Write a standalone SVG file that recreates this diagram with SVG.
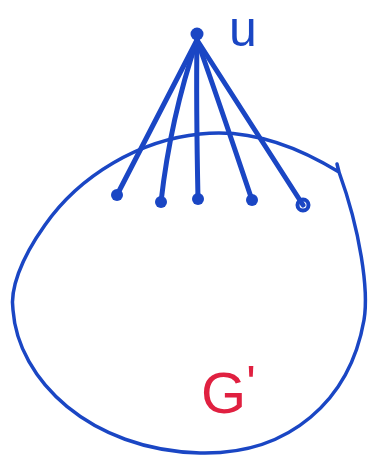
<svg xmlns="http://www.w3.org/2000/svg" width="371" height="461" viewBox="0 0 371 461">
<style>
.edge{stroke:#1a46c4;stroke-width:5;stroke-linecap:round;fill:none}
.vtx{fill:#1a46c4}
.outline{stroke:#1a46c4;stroke-width:3.5;fill:none;stroke-linecap:round;stroke-linejoin:round}
.lbl{font-family:"Liberation Sans",Arial,sans-serif}
</style>
<rect width="371" height="461" fill="#ffffff"/>
<g id="graph-Gprime">
<path class="outline" d="M337,164 L339,172 C300,148 250,128 200,134 C140,140 80,175 45,225 C20,260 10,290 13,310 C18,380 90,450 200,453 C290,455 350,400 364,320 C369,290 360,230 339,172"/>
<text class="lbl" x="201" y="413" font-size="58" fill="#e02040">G<tspan dy="-12" font-size="50">'</tspan></text>
</g>
<g id="connectors">
<path class="edge" d="M197,40 L117,195"/>
<path class="edge" d="M197,40 C180,90 168,140 161,202"/>
<path class="edge" d="M197,40 C196,100 197,150 198,199"/>
<path class="edge" d="M197,40 C215,90 235,150 252,200"/>
<path class="edge" d="M197,40 L303,205"/>
</g>
<g id="node-u">
<circle class="vtx" cx="197" cy="34" r="6.5"/>
<text class="lbl" x="229" y="46" font-size="50" fill="#1a46c4">u</text>
</g>
<g id="node-v1"><circle class="vtx" cx="117" cy="195" r="6"/></g>
<g id="node-v2"><circle class="vtx" cx="161" cy="202" r="6"/></g>
<g id="node-v3"><circle class="vtx" cx="198" cy="199" r="6"/></g>
<g id="node-v4"><circle class="vtx" cx="252" cy="200" r="6"/></g>
<g id="node-v5"><circle cx="303" cy="205" r="5.5" fill="none" stroke="#1a46c4" stroke-width="4"/></g>
</svg>
